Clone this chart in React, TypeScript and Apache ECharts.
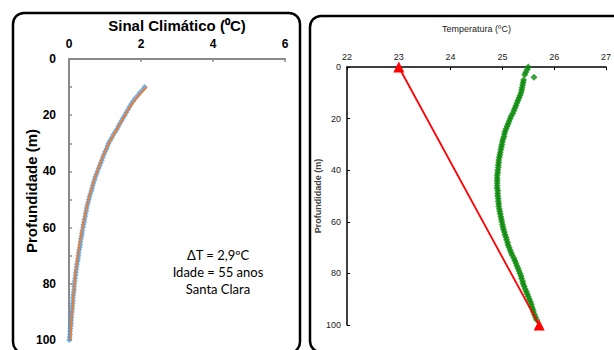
import React, { useEffect, useRef } from "react";
import * as echarts from "echarts";

// Left chart: climatic signal (°C) vs depth (m)
const signalStartDepth = 10; // first measured depth, 1 m step
const signalPoints = [
  2.10, 2.04, 1.97, 1.91, 1.84, 1.78, 1.73, 1.68, 1.64, 1.59,
  1.55, 1.50, 1.46, 1.41, 1.37, 1.33, 1.28, 1.23, 1.19, 1.14,
  1.10, 1.07, 1.04, 1.00, 0.97, 0.94, 0.91, 0.88, 0.85, 0.82,
  0.79, 0.76, 0.73, 0.71, 0.68, 0.66, 0.64, 0.62, 0.59, 0.57,
  0.55, 0.53, 0.51, 0.49, 0.48, 0.46, 0.45, 0.43, 0.42, 0.40,
  0.39, 0.37, 0.36, 0.35, 0.33, 0.32, 0.31, 0.30, 0.28, 0.27,
  0.26, 0.25, 0.24, 0.22, 0.21, 0.20, 0.19, 0.18, 0.17, 0.16,
  0.15, 0.14, 0.14, 0.13, 0.12, 0.11, 0.11, 0.10, 0.09, 0.09,
  0.08, 0.07, 0.07, 0.06, 0.06, 0.05, 0.04, 0.03, 0.03, 0.02,
  0.01,
];
const modelDepths = [10, 15, 20, 25, 30, 35, 40, 45, 50, 55, 60, 65, 70, 75, 80, 85, 90, 95, 100];
const modelSignal = [2.16, 1.81, 1.56, 1.33, 1.11, 0.93, 0.78, 0.65, 0.54, 0.45, 0.37, 0.30, 0.24, 0.19, 0.15, 0.12, 0.09, 0.06, 0.04];
const leftXTicks = [0, 2, 4, 6];
const leftYTicks = [0, 20, 40, 60, 80, 100];

// Right chart: measured temperature profile and linear trend
const tempStartDepth = 0; // 1 m step
const tempProfile: (number | null)[] = [
  25.50, 25.48, 25.45, 25.43, null, 25.41, 25.40, 25.39, 25.38, 25.37,
  25.36, 25.34, 25.32, 25.30, 25.28, 25.26, 25.24, 25.22, 25.20, 25.17,
  25.15, 25.13, 25.11, 25.09, 25.07, 25.05, 25.04, 25.03, 25.01, 25.00,
  24.99, 24.98, 24.97, 24.96, 24.95, 24.94, 24.93, 24.93, 24.92, 24.92,
  24.91, 24.91, 24.90, 24.90, 24.90, 24.90, 24.90, 24.90, 24.91, 24.91,
  24.91, 24.92, 24.92, 24.93, 24.93, 24.94, 24.95, 24.96, 24.97, 24.98,
  24.99, 25.00, 25.01, 25.02, 25.04, 25.05, 25.07, 25.08, 25.10, 25.11,
  25.13, 25.15, 25.17, 25.19, 25.22, 25.24, 25.26, 25.28, 25.30, 25.32,
  25.34, 25.36, 25.37, 25.39, 25.40, 25.42, 25.44, 25.46, 25.48, 25.50,
  25.52, 25.54, 25.56, 25.57, 25.59, 25.60, 25.62, 25.64, 25.66,
];
const tempOutlier = [25.61, 4]; // [temperature, depth]
const trendTemps = [23.0, 25.71];
const trendDepths = [0, 100];
const rightXTicks = [22, 23, 24, 25, 26, 27];
const rightYTicks = [0, 20, 40, 60, 80, 100];

const annotation = ["ΔT = 2,9ºC", "Idade = 55 anos", "Santa Clara"];

export default function App() {
  const ref = useRef<HTMLDivElement>(null);

  useEffect(() => {
    document.body.style.margin = "0";
    if (!ref.current) return;
    const chart = echarts.init(ref.current, undefined, { renderer: "svg" });

    const signalData = signalPoints.map((v, i) => [v, signalStartDepth + i]);
    const modelData = modelSignal.map((v, i) => [v, modelDepths[i]]);
    const tempData = tempProfile
      .map((v, i) => (v === null ? null : [v, tempStartDepth + i]))
      .filter((p) => p !== null);
    tempData.push(tempOutlier);
    const trendData = trendTemps.map((v, i) => [v, trendDepths[i]]);

    const gray = "#8a8a8a";
    const font = "Arial, 'Liberation Sans', sans-serif";

    chart.setOption({
      animation: false,
      backgroundColor: "#ffffff",
      grid: [
        { left: 69, top: 59, width: 216, height: 281 },
        { left: 347, top: 67, width: 262, height: 258 },
      ],
      xAxis: [
        {
          gridIndex: 0,
          type: "value",
          position: "top",
          min: leftXTicks[0],
          max: leftXTicks[leftXTicks.length - 1],
          interval: 2,
          name: "Sinal Climático (⁰C)",
          nameLocation: "middle",
          nameGap: 19,
          nameTextStyle: { fontFamily: font, fontWeight: "bold", fontSize: 15, color: "#000" },
          axisLine: { show: true, lineStyle: { color: gray, width: 2 } },
          axisTick: { show: true, inside: true, length: 3, lineStyle: { color: gray, width: 1.5 } },
          axisLabel: { fontFamily: font, fontWeight: "bold", fontSize: 12, color: "#000", margin: 9 },
          splitLine: { show: false },
        },
        {
          gridIndex: 1,
          type: "value",
          position: "top",
          min: rightXTicks[0],
          max: rightXTicks[rightXTicks.length - 1],
          interval: 1,
          name: "Temperatura (ºC)",
          nameLocation: "middle",
          nameGap: 34,
          nameTextStyle: { fontFamily: font, fontSize: 9, color: "#222" },
          axisLine: { show: true, lineStyle: { color: "#000", width: 1.5 } },
          axisTick: { show: true, inside: true, length: 3, lineStyle: { color: "#000" } },
          axisLabel: { fontFamily: font, fontSize: 9, color: "#222", margin: 6 },
          splitLine: { show: false },
        },
      ],
      yAxis: [
        {
          gridIndex: 0,
          type: "value",
          inverse: true,
          min: leftYTicks[0],
          max: leftYTicks[leftYTicks.length - 1],
          interval: 10,
          axisLine: { show: true, lineStyle: { color: gray, width: 2 } },
          axisTick: { show: true, inside: true, length: 3, lineStyle: { color: gray, width: 1.5 } },
          axisLabel: {
            fontFamily: font,
            fontWeight: "bold",
            fontSize: 12,
            color: "#000",
            margin: 13,
            formatter: (v: number) => (leftYTicks.includes(v) ? String(v) : ""),
          },
          splitLine: { show: false },
        },
        {
          gridIndex: 1,
          type: "value",
          inverse: true,
          min: rightYTicks[0],
          max: rightYTicks[rightYTicks.length - 1],
          interval: 20,
          name: "Profundidade (m)",
          nameLocation: "middle",
          nameGap: 25,
          nameTextStyle: { fontFamily: font, fontSize: 9, fontWeight: "bold", color: "#444" },
          axisLine: { show: true, lineStyle: { color: "#000", width: 1.5 } },
          axisTick: { show: true, inside: true, length: 3, lineStyle: { color: "#000" } },
          axisLabel: { fontFamily: font, fontSize: 9, color: "#222", margin: 6 },
          splitLine: { show: false },
        },
      ],
      series: [
        {
          type: "scatter",
          xAxisIndex: 0,
          yAxisIndex: 0,
          data: signalData,
          symbol: "diamond",
          symbolSize: 6,
          itemStyle: { color: "#5B9BD5" },
          z: 2,
        },
        {
          type: "line",
          xAxisIndex: 0,
          yAxisIndex: 0,
          data: modelData,
          smooth: true,
          showSymbol: false,
          lineStyle: { color: "#ED7D31", width: 1.8 },
          z: 3,
        },
        {
          type: "scatter",
          xAxisIndex: 1,
          yAxisIndex: 1,
          data: tempData,
          symbol: "diamond",
          symbolSize: 7,
          itemStyle: { color: "#0a8a0a" },
          clip: false,
        },
        {
          type: "line",
          xAxisIndex: 1,
          yAxisIndex: 1,
          data: trendData,
          symbol: "triangle",
          symbolSize: 11,
          showAllSymbol: true,
          itemStyle: { color: "#ff0000" },
          lineStyle: { color: "#ff0000", width: 1.8 },
          clip: false,
          z: 4,
        },
      ],
      graphic: [
        {
          type: "rect",
          shape: { x: 13, y: 13, width: 287, height: 340, r: 11 },
          style: { fill: "none", stroke: "#000", lineWidth: 2.5 },
          silent: true,
        },
        {
          type: "rect",
          shape: { x: 310, y: 16, width: 320, height: 336, r: 11 },
          style: { fill: "none", stroke: "#000", lineWidth: 2.5 },
          silent: true,
        },
        {
          type: "text",
          x: 31,
          y: 191,
          rotation: Math.PI / 2,
          style: {
            text: "Profundidade (m)",
            fontFamily: font,
            fontWeight: "bold",
            fontSize: 15,
            fill: "#000",
            align: "center",
            verticalAlign: "middle",
          },
        },
        ...annotation.map((t, i) => ({
          type: "text",
          x: 218,
          y: 255 + i * 17,
          style: {
            text: t,
            fontFamily: "Lato, 'Open Sans', sans-serif",
            fontSize: 13,
            fill: "#000",
            align: "center",
            verticalAlign: "middle",
          },
        })),
      ],
    });

    return () => chart.dispose();
  }, []);

  return <div ref={ref} style={{ width: 614, height: 350 }} />;
}
